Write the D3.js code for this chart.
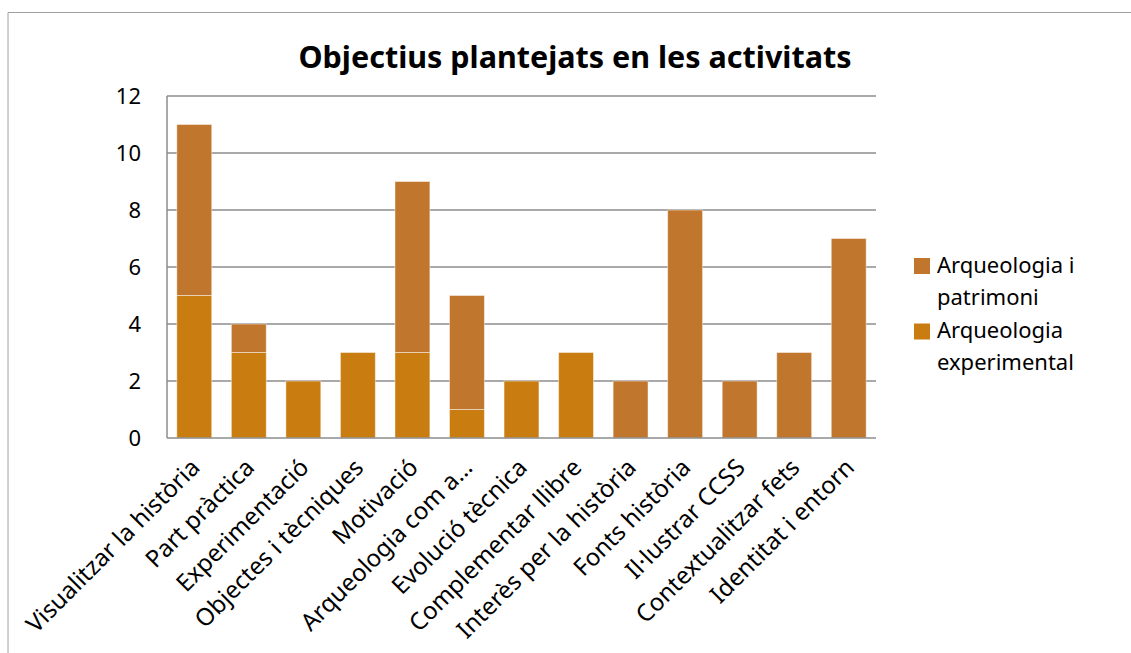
<!DOCTYPE html>
<html><head><meta charset="utf-8">
<script src="https://cdn.jsdelivr.net/npm/d3@7"></script>
<style>html,body{margin:0;padding:0;background:#fff}svg{display:block;font-family:"Noto Sans",sans-serif}</style>
</head><body><svg id="chart" width="1131" height="653"></svg>
<script>
const title = "Objectius plantejats en les activitats";
const categories = ["Visualitzar la història","Part pràctica","Experimentació","Objectes i tècniques","Motivació","Arqueologia com a…","Evolució tècnica","Complementar llibre","Interès per la història","Fonts història","Il·lustrar CCSS","Contextualitzar fets","Identitat i entorn"];
const experimental = [5,3,2,3,3,1,2,3,0,0,0,0,0];
const patrimoni = [6,1,0,0,6,4,0,0,2,8,2,3,7];
const yTicks = [0,2,4,6,8,10,12];
const seriesKeys = ["experimental","patrimoni"];
const legendLines = {patrimoni:["Arqueologia i","patrimoni"], experimental:["Arqueologia","experimental"]};
const colors = {experimental:"#C97D10", patrimoni:"#C0762C"};

const svg = d3.select("#chart");
svg.append("rect").attr("width",1131).attr("height",653).attr("fill","#fff");
svg.append("path").attr("d","M8,653V12.5H1131").attr("fill","none").attr("stroke","#a0a0a0").attr("stroke-width",1);

const L=167,R=876,T=96,B=438;
const x = d3.scaleBand().domain(categories).range([L,R]).paddingInner(0.36).paddingOuter(0.18);
const y = d3.scaleLinear().domain([0,12]).range([B,T]);

// gridlines
svg.append("g").selectAll("line").data(yTicks.filter(d=>d>0)).join("line")
  .attr("x1",L).attr("x2",R).attr("y1",d=>y(d)).attr("y2",d=>y(d))
  .attr("stroke","#8c8c8c").attr("stroke-width",1.5);

const table = categories.map((c,i)=>({cat:c, experimental:experimental[i], patrimoni:patrimoni[i]}));
const stacked = d3.stack().keys(seriesKeys)(table);
svg.append("g").selectAll("g").data(stacked).join("g").attr("fill",d=>colors[d.key])
  .selectAll("rect").data(d=>d.filter(v=>v[1]-v[0]>0)).join("rect")
  .attr("x",d=>x(d.data.cat)).attr("width",x.bandwidth())
  .attr("y",d=>y(d[1])).attr("height",d=>y(d[0])-y(d[1]))
  .attr("stroke","#ffffff").attr("stroke-opacity",0.45).attr("stroke-width",1);

// axes lines
svg.append("line").attr("x1",L).attr("x2",L).attr("y1",T).attr("y2",B).attr("stroke","#8c8c8c").attr("stroke-width",1.5);
svg.append("line").attr("x1",L).attr("x2",R).attr("y1",B).attr("y2",B).attr("stroke","#8c8c8c").attr("stroke-width",1.5);

// y tick labels
svg.append("g").selectAll("text").data(yTicks).join("text")
  .attr("x",141).attr("y",d=>y(d)).attr("dy","0.36em").attr("text-anchor","end")
  .attr("font-size",22).attr("fill","#000").text(d=>d);

// x labels
svg.append("g").selectAll("text").data(categories).join("text")
  .attr("text-anchor","end").attr("font-size",24).attr("fill","#000")
  .attr("transform",d=>`translate(${x(d)+x.bandwidth()/2+7},${469}) rotate(-45)`)
  .text(d=>d);

// title
svg.append("text").attr("x",575).attr("y",68).attr("text-anchor","middle")
  .attr("font-size",30.5).attr("font-weight","bold").attr("fill","#000").text(title);

// legend
const legendOrder = ["patrimoni","experimental"];
const leg = svg.append("g");
legendOrder.forEach((k,i)=>{
  const y0 = 258 + i*65.5;
  leg.append("rect").attr("x",914).attr("y",y0).attr("width",16).attr("height",16).attr("fill",colors[k]);
  legendLines[k].forEach((w,j)=>{
    leg.append("text").attr("x",937).attr("y",y0+14.5+j*32).attr("font-size",22).attr("fill","#000").text(w);
  });
});
</script></body></html>
